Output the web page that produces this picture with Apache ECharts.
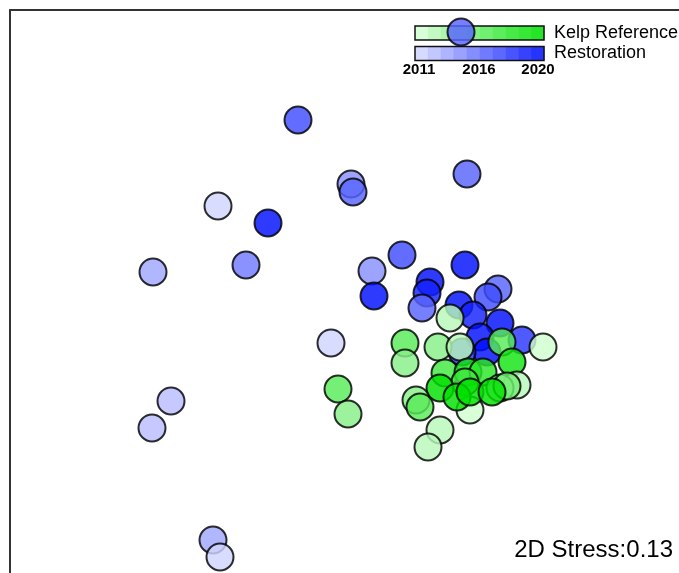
<!DOCTYPE html>
<html>
<head>
<meta charset="utf-8">
<script src="https://cdn.jsdelivr.net/npm/echarts@6/dist/echarts.min.js"></script>
<style>
  html, body { margin: 0; padding: 0; background: #fff; }
  #chart { width: 679px; height: 573px; }
</style>
</head>
<body>
<div id="chart"></div>
<script>
// NMDS scores [x, y, year]
const restoration = [
  [0.255, 1.39, 2016],
  [-0.56, 0.95, 2017],
  [0.285, 0.68, 2016],
  [-0.295, 0.63, 2014],
  [-0.285, 0.59, 2016],
  [-0.96, 0.52, 2011],
  [-0.71, 0.435, 2020],
  [-1.285, 0.19, 2013],
  [-0.82, 0.225, 2015],
  [-0.04, 0.275, 2017],
  [0.275, 0.225, 2020],
  [-0.19, 0.195, 2014],
  [-0.18, 0.07, 2020],
  [0.10, 0.14, 2020],
  [0.085, 0.085, 2019],
  [0.06, 0.01, 2016],
  [0.44, 0.105, 2016],
  [0.39, 0.065, 2017],
  [0.245, 0.025, 2020],
  [0.315, -0.025, 2019],
  [0.45, -0.065, 2020],
  [0.56, -0.15, 2018],
  [0.35, -0.135, 2020],
  [0.385, -0.21, 2020],
  [0.26, -0.21, 2018],
  [-0.395, -0.165, 2011],
  [-1.195, -0.455, 2012],
  [-1.29, -0.59, 2012],
  [-0.985, -1.15, 2013],
  [-0.95, -1.235, 2011]
]

const kelpReference = [
  [0.2, -0.04, 2012],
  [-0.025, -0.165, 2016],
  [-0.025, -0.265, 2014],
  [0.14, -0.185, 2014],
  [0.25, -0.185, 2012],
  [0.46, -0.16, 2016],
  [0.665, -0.185, 2011],
  [0.51, -0.26, 2019],
  [-0.36, -0.395, 2016],
  [-0.31, -0.52, 2014],
  [0.175, -0.315, 2017],
  [0.29, -0.31, 2019],
  [0.365, -0.31, 2018],
  [0.275, -0.36, 2017],
  [0.535, -0.375, 2012],
  [0.45, -0.39, 2013],
  [0.485, -0.38, 2015],
  [0.30, -0.50, 2011],
  [0.15, -0.39, 2020],
  [0.235, -0.435, 2020],
  [0.30, -0.41, 2020],
  [0.41, -0.41, 2020],
  [0.03, -0.45, 2014],
  [0.05, -0.485, 2016],
  [0.15, -0.60, 2012],
  [0.09, -0.685, 2012]
]

const years = [2011, 2012, 2013, 2014, 2015, 2016, 2017, 2018, 2019, 2020]
const yearLabels = ['2011', '2016', '2020']
const stressText = '2D Stress:0.13'

const bluePal = ['#d0d4ff', '#b8bdff', '#a0a7ff', '#8890ff', '#707aff',
                 '#5864ff', '#404dff', '#2837ff', '#1421ff', '#0010ff']
const greenPal = ['#d0ffd0', '#b8f8b8', '#a0f5a0', '#88f088', '#70ee70',
                  '#58ec58', '#40e940', '#28e628', '#14e414', '#00e000']

const chart = echarts.init(document.getElementById('chart'))

// colour bar legend
const legendEls = []
const barX = 415, segW = 12.9
years.forEach((y, i) => {
  legendEls.push({ type: 'rect', shape: { x: barX + i * segW, y: 26, width: segW + 0.3, height: 14 },
    style: { fill: greenPal[i], opacity: 0.85 } })
  legendEls.push({ type: 'rect', shape: { x: barX + i * segW, y: 46.5, width: segW + 0.3, height: 14 },
    style: { fill: bluePal[i], opacity: 0.85 } })
})
legendEls.push({ type: 'rect', shape: { x: barX, y: 26, width: segW * 10, height: 14 },
  style: { fill: null, stroke: '#111', lineWidth: 1.5 } })
legendEls.push({ type: 'rect', shape: { x: barX, y: 46.5, width: segW * 10, height: 14 },
  style: { fill: null, stroke: '#111', lineWidth: 1.5 } })
const labelX = [419, 479, 538]
yearLabels.forEach((t, i) => {
  legendEls.push({ type: 'text', x: labelX[i], y: 70,
    style: { text: t, fill: '#000', font: 'bold 15px "Liberation Sans", Arial', align: 'center', verticalAlign: 'middle' } })
})
legendEls.push({ type: 'text', x: 554, y: 33,
  style: { text: 'Kelp Reference', fill: '#000', font: '18px "Liberation Sans", Arial', verticalAlign: 'middle' } })
legendEls.push({ type: 'text', x: 554, y: 53.5,
  style: { text: 'Restoration', fill: '#000', font: '18px "Liberation Sans", Arial', verticalAlign: 'middle' } })
legendEls.push({ type: 'text', x: 673, y: 550,
  style: { text: stressText, fill: '#000', font: '24px "Liberation Sans", Arial', align: 'right', verticalAlign: 'middle' } })

const pointStyle = (pal) => ({
  color: (p) => pal[p.data[2] - 2011],
  opacity: 0.82,
  borderColor: '#000',
  borderWidth: 2
})

const options = {
  animation: false,
  backgroundColor: '#fff',
  // plot frame runs past the right and bottom edges, as in the source figure
  grid: { left: 10, top: 10, width: 700, height: 600, outerBoundsMode: 'none' },
  xAxis: {
    type: 'value', min: -2, max: 1.5, position: 'top',
    axisLine: { show: true, onZero: false, lineStyle: { color: '#333', width: 2 } },
    axisTick: { show: false }, axisLabel: { show: false }, splitLine: { show: false }
  },
  yAxis: {
    type: 'value', min: -1.5, max: 1.5, position: 'left',
    axisLine: { show: true, onZero: false, lineStyle: { color: '#333', width: 2 } },
    axisTick: { show: false }, axisLabel: { show: false }, splitLine: { show: false }
  },
  graphic: { elements: legendEls },
  series: [
    {
      name: 'Restoration', type: 'scatter', symbol: 'circle', symbolSize: 27,
      data: restoration, itemStyle: pointStyle(bluePal), z: 3
    },
    {
      name: 'Kelp Reference', type: 'scatter', symbol: 'circle', symbolSize: 27,
      data: kelpReference, itemStyle: pointStyle(greenPal), z: 4
    }
  ]
}

chart.setOption(options)
</script>
</body>
</html>
